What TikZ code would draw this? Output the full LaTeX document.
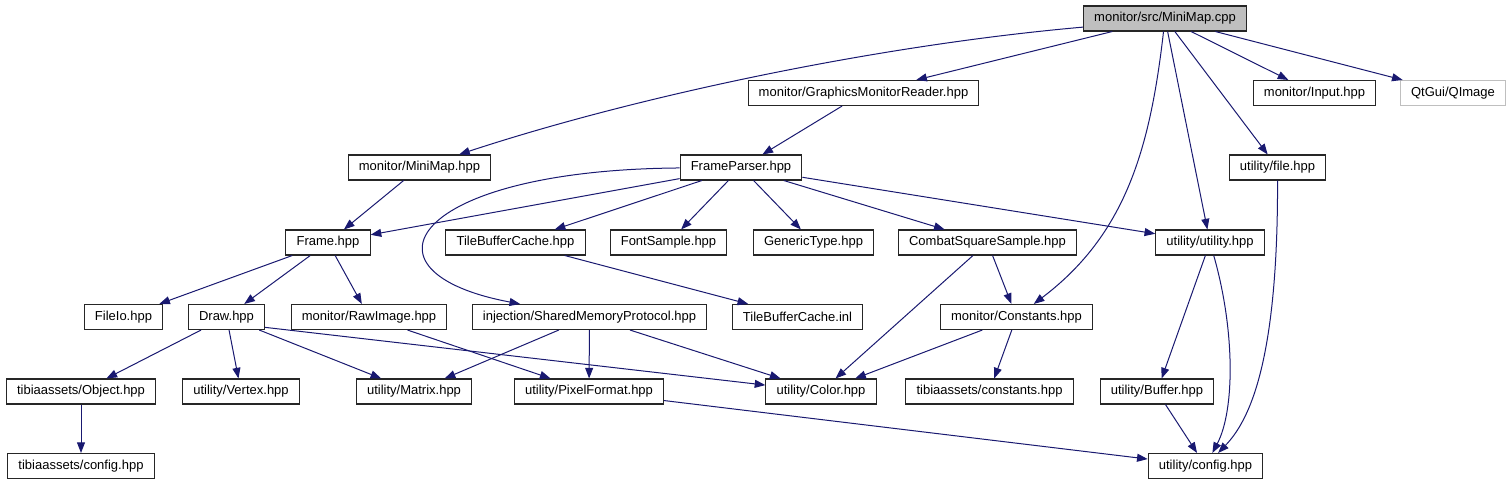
\documentclass[tikz,border=0pt]{standalone}
\usepackage{fontspec}
\setmainfont{Liberation Sans}
\usepackage{tikz}
\usetikzlibrary{arrows.meta, positioning}
\definecolor{edgeblue}{RGB}{25, 25, 112}
\definecolor{rootgray}{RGB}{191, 191, 191}

\begin{document}
\begin{tikzpicture}[
    x=0.75pt, y=-0.75pt,
    filebox/.style={rectangle, draw=black!85, fill=white, line width=0.8pt,
                    inner xsep=8pt, inner ysep=1pt, minimum height=18.75pt,
                    font=\fontsize{9.75pt}{11pt}\selectfont},
    rootbox/.style={filebox, fill=rootgray},
    extbox/.style={filebox, draw=rootgray},
    arrow/.style={-{Triangle[length=8pt, width=6pt]}, line width=0.75pt, color=edgeblue},
]
    \useasboundingbox (0,0) rectangle (1512,485);

    % Top: the source file and its direct includes
    \node[rootbox] (cpp) at (1165,18.5) {monitor/src/MiniMap.cpp};
    \node[filebox] (gmr) at (863.5,93) {monitor/GraphicsMonitorReader.hpp};
    \node[filebox] (input) at (1314.5,93) {monitor/Input.hpp};
    \node[extbox] (qimage) at (1453,93) {QtGui/QImage};

    \node[filebox] (mmhpp) at (419.5,167.5) {monitor/MiniMap.hpp};
    \node[filebox] (fp) at (741,167.5) {FrameParser.hpp};
    \node[filebox] (filehpp) at (1277.5,167.5) {utility/file.hpp};

    % Middle rows
    \node[filebox] (frame) at (328,242.5) {Frame.hpp};
    \node[filebox] (tbc) at (515.5,242.5) {TileBufferCache.hpp};
    \node[filebox] (fontsmp) at (668.5,242.5) {FontSample.hpp};
    \node[filebox] (generic) at (813.5,242.5) {GenericType.hpp};
    \node[filebox] (combat) at (987.5,242.5) {CombatSquareSample.hpp};
    \node[filebox] (utility) at (1210,242.5) {utility/utility.hpp};

    \node[filebox] (fileio) at (123.5,317) {FileIo.hpp};
    \node[filebox] (drawhpp) at (226.5,317) {Draw.hpp};
    \node[filebox] (rawimg) at (369,317) {monitor/RawImage.hpp};
    \node[filebox] (shm) at (589.5,317) {injection/SharedMemoryProtocol.hpp};
    \node[filebox] (tbcinl) at (797.5,317) {TileBufferCache.inl};
    \node[filebox] (consts) at (1016.5,317) {monitor/Constants.hpp};

    % Bottom rows
    \node[filebox] (object) at (81,391.5) {tibiaassets/Object.hpp};
    \node[filebox] (vertex) at (241,391.5) {utility/Vertex.hpp};
    \node[filebox] (matrix) at (414,391.5) {utility/Matrix.hpp};
    \node[filebox] (pixfmt) at (589,391.5) {utility/PixelFormat.hpp};
    \node[filebox] (colorhpp) at (821,391.5) {utility/Color.hpp};
    \node[filebox] (tibconst) at (989.5,391.5) {tibiaassets/constants.hpp};
    \node[filebox] (buffer) at (1157,391.5) {utility/Buffer.hpp};

    \node[filebox] (tibconfig) at (81,466) {tibiaassets/config.hpp};
    \node[filebox] (config) at (1205.5,466) {utility/config.hpp};

    % Includes of MiniMap.cpp
    \draw[arrow] (cpp.186) .. controls (880,45) and (640,95) .. (mmhpp);
    \draw[arrow] (cpp) -- (gmr);
    \draw[arrow] (cpp) .. controls (1150,150) and (1125,235) .. (consts);
    \draw[arrow] (cpp) -- (utility);
    \draw[arrow] (cpp) -- (filehpp);
    \draw[arrow] (cpp) -- (input);
    \draw[arrow] (cpp) -- (qimage);

    \draw[arrow] (gmr) -- (fp);
    \draw[arrow] (mmhpp) -- (frame);

    % FrameParser.hpp
    \draw[arrow] (fp) -- (frame);
    \draw[arrow] (fp) .. controls (410,170) and (350,272) .. (shm);
    \draw[arrow] (fp) -- (tbc);
    \draw[arrow] (fp) -- (fontsmp);
    \draw[arrow] (fp) -- (generic);
    \draw[arrow] (fp) -- (combat);
    \draw[arrow] (fp) -- (utility);

    % Right side
    \draw[arrow] (filehpp) .. controls (1278,360) and (1250,420) .. (config);
    \draw[arrow] (utility) -- (buffer);
    \draw[arrow] (utility) .. controls (1235,330) and (1235,410) .. (config);
    \draw[arrow] (buffer) -- (config);
    \draw[arrow] (combat) -- (consts);
    \draw[arrow] (combat) -- (colorhpp);
    \draw[arrow] (consts) -- (colorhpp);
    \draw[arrow] (consts) -- (tibconst);

    % Middle
    \draw[arrow] (tbc) -- (tbcinl);
    \draw[arrow] (shm) -- (matrix);
    \draw[arrow] (shm) -- (pixfmt);
    \draw[arrow] (shm) -- (colorhpp);
    \draw[arrow] (rawimg) -- (pixfmt);
    \draw[arrow] (pixfmt) -- (config);

    % Frame.hpp and Draw.hpp
    \draw[arrow] (frame) -- (fileio);
    \draw[arrow] (frame) -- (drawhpp);
    \draw[arrow] (frame) -- (rawimg);
    \draw[arrow] (drawhpp.-15) -- (colorhpp);
    \draw[arrow] (drawhpp) -- (object);
    \draw[arrow] (drawhpp) -- (vertex);
    \draw[arrow] (drawhpp) -- (matrix);
    \draw[arrow] (object) -- (tibconfig);
\end{tikzpicture}
\end{document}
